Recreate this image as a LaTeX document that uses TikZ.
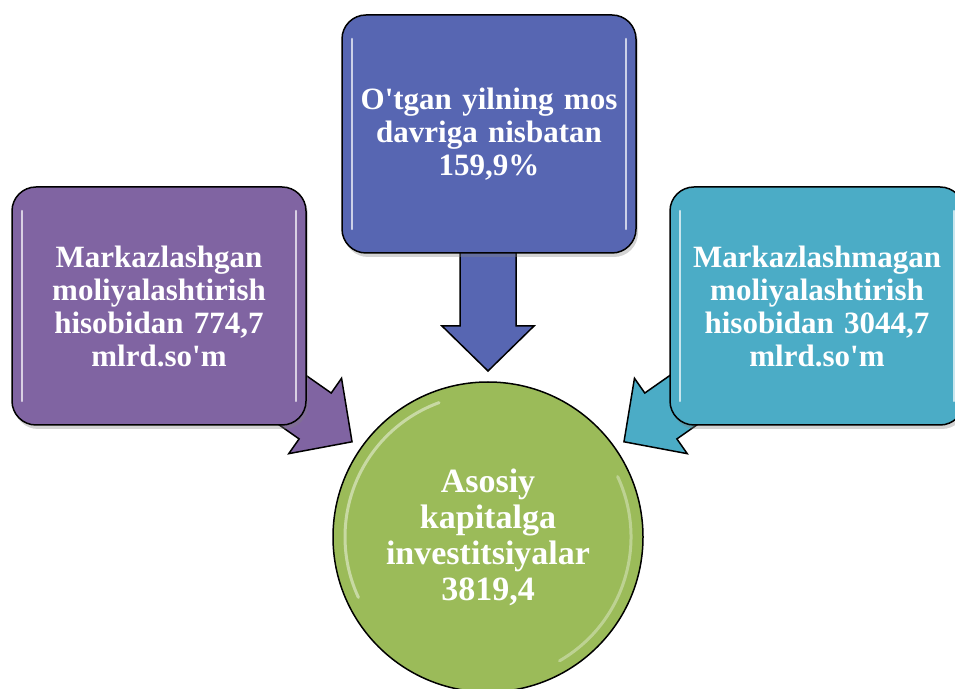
\documentclass[tikz,border=0pt]{standalone}
\usepackage{fontspec}
\setmainfont{Liberation Serif}
\usetikzlibrary{calc,shadows}

\definecolor{kokbox}{HTML}{5766B2}
\definecolor{binafsha}{HTML}{8064A2}
\definecolor{moviy}{HTML}{4BACC6}
\definecolor{yashil}{HTML}{9BBB59}

\newcommand{\apos}{\textquotesingle}

\tikzset{
  gloss/.style={draw=white, opacity=.7, line width=2.5pt, line cap=round},
  glossbox/.style={rounded corners=24pt, draw=black, line width=1.5pt,
    minimum width=294pt, minimum height=238pt, text width=280pt, inner sep=0pt,
    align=center, text=white, font=\fontsize{31}{33}\selectfont\bfseries,
    drop shadow={opacity=.35, shadow xshift=2pt, shadow yshift=-4pt},
    path picture={
      \draw[gloss] ([xshift=10pt,yshift=-24pt]path picture bounding box.north west)
        -- ([xshift=10pt,yshift=24pt]path picture bounding box.south west);
      \draw[gloss] ([xshift=-10pt,yshift=-24pt]path picture bounding box.north east)
        -- ([xshift=-10pt,yshift=24pt]path picture bounding box.south east);}},
  krug/.style={circle, draw=black, line width=1.5pt, fill=yashil, minimum size=310pt,
    text width=270pt, inner sep=0pt, align=center, text=white,
    font=\fontsize{34}{36}\selectfont\bfseries,
    path picture={
      \draw[gloss, opacity=.45, line width=3pt] ($(path picture bounding box.center)+(205:143)$) arc (205:110:143);
      \draw[gloss, opacity=.35, line width=3pt] ($(path picture bounding box.center)+(25:143)$) arc (25:-60:143);}},
  arrowbody/.style={draw=black, line width=1.5pt, line join=miter}
}

% block arrow: angle from circle centre, length, colour
\newcommand{\bigarrow}[3]{%
  \filldraw[arrowbody, fill=#3, shift={($(asosiy.center)+(#1:166)$)}, rotate=#1+180]
    (0,0) -- (-45,46) -- (-45,28) -- (-#2,28) -- (-#2,-28) -- (-45,-28) -- (-45,-46) -- cycle;}

\begin{document}
\begin{tikzpicture}[x=1pt, y=1pt]
  \useasboundingbox (0,0) rectangle (955,688);
  \clip (0,0) rectangle (955,688);

  \node[krug] (asosiy) at (488,151) {Asosiy\\ kapitalga\\ investitsiyalar\\ 3819,4};

  \bigarrow{90}{130}{kokbox}    % yuqoridan
  \bigarrow{145}{125}{binafsha}  % chapdan
  \bigarrow{35}{125}{moviy}      % o'ngdan

  \node[glossbox, fill=kokbox] (otgan) at (489,554) {O\apos tgan yilning mos\\ davriga nisbatan\\ 159,9\%};
  \node[glossbox, fill=binafsha] (markaz) at (159,382) {Markazlashgan\\ moliyalashtirish\\ hisobidan 774,7\\ mlrd.so\apos m};
  \node[glossbox, fill=moviy] (nomarkaz) at (817,382) {Markazlashmagan\\ moliyalashtirish\\ hisobidan 3044,7\\ mlrd.so\apos m};
\end{tikzpicture}
\end{document}
